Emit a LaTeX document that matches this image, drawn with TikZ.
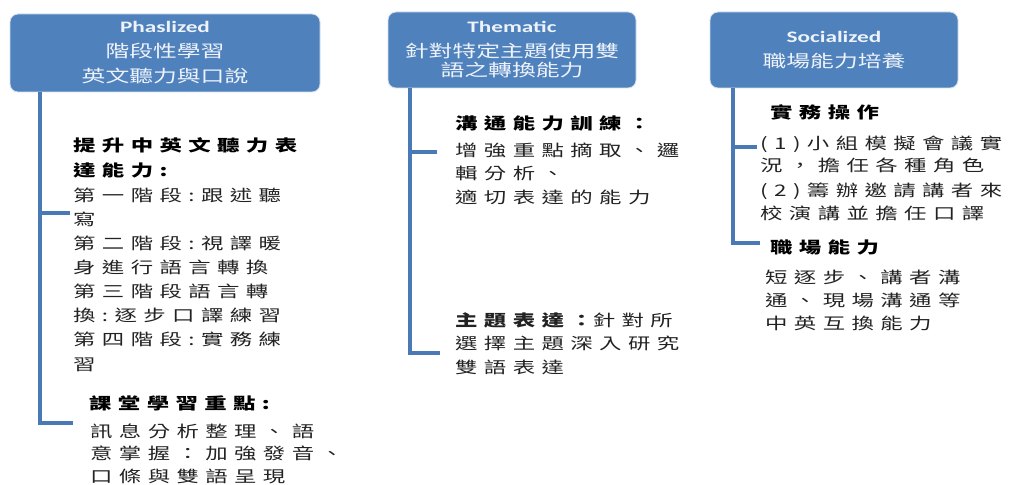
\documentclass[tikz,border=0pt]{standalone}
\usepackage{fontspec}
\newfontfamily\bodyfont[FakeStretch=1.4,LetterSpace=40]{Noto Sans CJK TC}
\newfontfamily\headcjk[FakeStretch=1.4]{Noto Sans CJK TC}
\newfontfamily\headlat[FakeStretch=1.45]{Carlito}
\definecolor{boxblue}{HTML}{4F81BD}
\definecolor{barblue}{HTML}{4A7AB5}
\definecolor{headtext}{HTML}{EEF3FA}
\definecolor{bodytext}{HTML}{222222}
\tikzset{
  hbox/.style={draw=white!75!boxblue, line width=0.8pt, fill=boxblue, rounded corners=8pt,
    text=headtext, align=center, inner sep=0pt, font=\headcjk\fontsize{17}{25}\selectfont},
  bar/.style={draw=barblue, line width=4pt},
  bodytxt/.style={anchor=base west, inner sep=0pt, align=left, text=bodytext,
    font=\bodyfont\fontsize{16}{24}\selectfont},
  headtxt/.style={bodytxt, text=black, font=\bodyfont\bfseries\fontsize{16}{24}\selectfont},
}
\begin{document}
\begin{tikzpicture}[x=1pt,y=-1pt]
\useasboundingbox (0,0) rectangle (1016,484);
% header boxes
\node[hbox, minimum width=310pt, minimum height=78pt] (h1) at (165,53)
  {{\headlat\bfseries\fontsize{16}{25}\selectfont Phaslized}\\
   階段性學習\\
   英文聽力與口說};
\node[hbox, minimum width=248pt, minimum height=76pt] (h2) at (512,50)
  {{\headlat\bfseries\fontsize{16}{25}\selectfont Thematic}\\
   針對特定主題使用雙\\[-6pt]
   語之轉換能力};
\node[hbox, minimum width=248pt, minimum height=76pt] (h3) at (834,50)
  {{\headlat\bfseries\fontsize{16}{25}\selectfont Socialized}\\
   職場能力培養};
% bracket coordinates
\coordinate (a1) at (70,213);
\coordinate (a2) at (73,423);
\coordinate (b1) at (437,152);
\coordinate (b2) at (440,353);
\coordinate (c1) at (757,147);
\coordinate (c2) at (760,243);
\draw[bar] ([xshift=30pt]h1.south west) |- (a2);
\draw[bar] ([xshift=30pt]h1.south west |- a1) -- (a1);
\draw[bar] ([xshift=22pt]h2.south west) |- (b2);
\draw[bar] ([xshift=22pt]h2.south west |- b1) -- (b1);
\draw[bar] ([xshift=23pt]h3.south west) |- (c2);
\draw[bar] ([xshift=23pt]h3.south west |- c1) -- (c1);
% column 1 (anchor = baseline of the last line)
\node[headtxt, font=\bodyfont\bfseries\fontsize{16}{25}\selectfont] (p1h) at (73,176) {提升中英文聽力表\\達能力:};
\node[bodytxt, font=\bodyfont\fontsize{16}{24.1}\selectfont] (p1b) at (73,370) {第一階段:跟述聽\\寫\\第二階段:視譯暖\\身進行語言轉換\\第三階段語言轉\\換:逐步口譯練習\\第四階段:實務練\\習};
\node[headtxt] (p2h) at (89,409) {課堂學習重點:};
\node[bodytxt, font=\bodyfont\fontsize{16}{22.5}\selectfont] (p2b) at (90,482) {訊息分析整理、語\\意掌握：加強發音、\\口條與雙語呈現};
% column 2
\node[headtxt] (t1h) at (455,129) {溝通能力訓練：};
\node[bodytxt, font=\bodyfont\fontsize{16}{23.5}\selectfont] (t1b) at (455,203) {增強重點摘取、邏\\輯分析、\\適切表達的能力};
\node[bodytxt, font=\bodyfont\fontsize{16}{23.5}\selectfont] (t2) at (455,373) {{\bfseries 主題表達：}針對所\\選擇主題深入研究\\雙語表達};
% column 3
\node[headtxt] (s1h) at (770,118) {實務操作};
\node[bodytxt, font=\bodyfont\fontsize{16}{22}\selectfont] (s1a) at (760,171) {(1)小組模擬會議實\\況，擔任各種角色};
\node[bodytxt, font=\bodyfont\fontsize{16}{23}\selectfont] (s1b) at (760,219) {(2)籌辦邀請講者來\\校演講並擔任口譯};
\node[headtxt] (s2h) at (770,253) {職場能力};
\node[bodytxt, font=\bodyfont\fontsize{16}{23}\selectfont] (s2b) at (765,329) {短逐步、講者溝\\通、現場溝通等\\中英互換能力};
\end{tikzpicture}
\end{document}
